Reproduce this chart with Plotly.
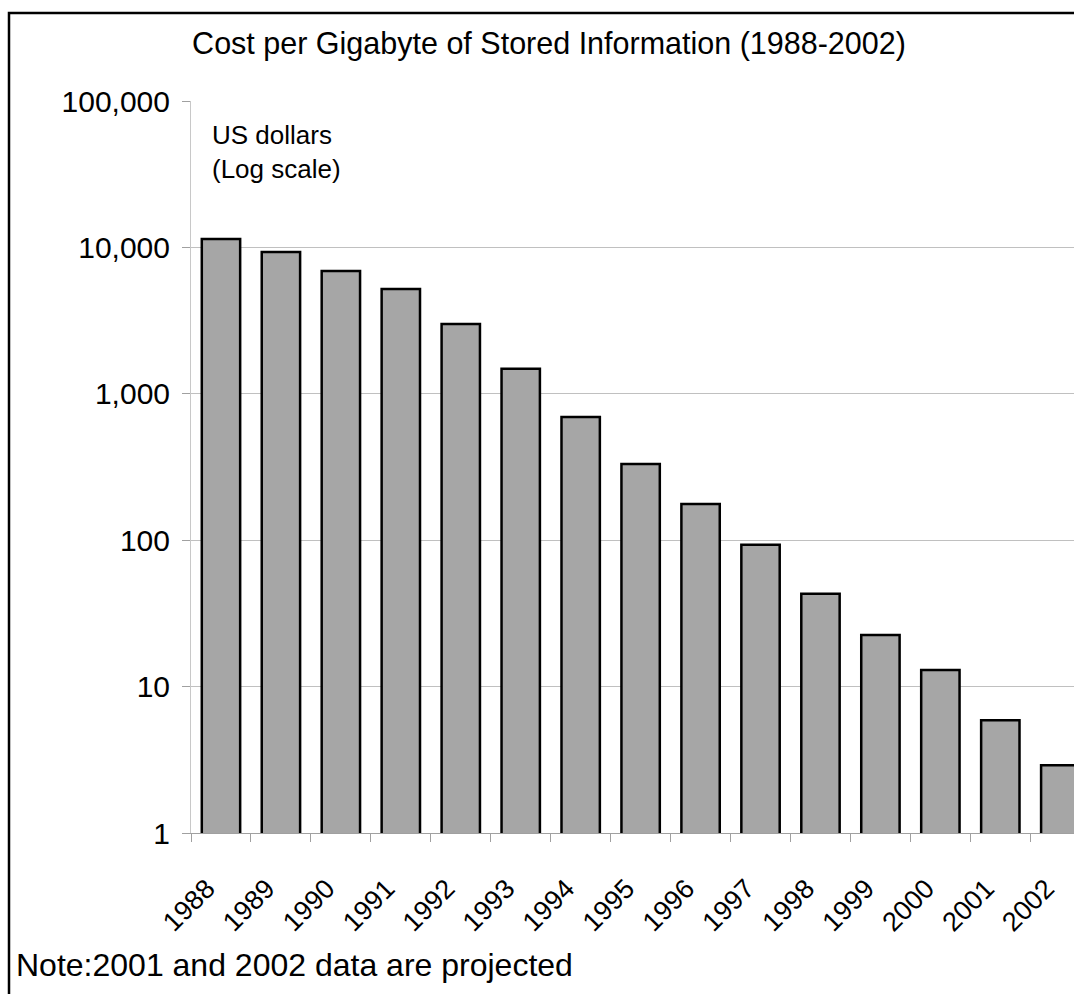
import plotly.graph_objects as go

years = ["1988", "1989", "1990", "1991", "1992", "1993", "1994", "1995",
         "1996", "1997", "1998", "1999", "2000", "2001", "2002"]
cost_per_gb = [11400, 9300, 6900, 5200, 3000, 1480, 695, 332, 177, 93, 43, 22.5, 13, 5.9, 2.9]
y_tickvals = [1, 10, 100, 1000, 10000, 100000]
y_ticktext = ["1", "10", "100", "1,000", "10,000", "100,000"]

W, H = 1074, 994
L, R, T, B = 191, 0, 101, 161
PW, PH = W - L - R, H - T - B
CAT_W = 59.95

def px_x(p):
    return (p - L) / PW

def px_y(p):
    return (H - B - p) / PH

FONT = "Liberation Sans, Arial, Helvetica, sans-serif"

fig = go.Figure(go.Bar(
    x=years, y=cost_per_gb,
    marker=dict(color="#a6a6a6", line=dict(color="#000000", width=2.5)),
))

fig.update_layout(
    width=W, height=H,
    margin=dict(l=L, r=R, t=T, b=B),
    paper_bgcolor="white", plot_bgcolor="white",
    font=dict(family=FONT, color="black"),
    bargap=0.36,
    showlegend=False,
    title=dict(text="Cost per Gigabyte of Stored Information (1988-2002)",
               x=549 / W, xanchor="center", xref="container",
               y=1 - 43 / H, yanchor="middle", yref="container",
               font=dict(size=30.5, family=FONT, color="black")),
)

fig.update_xaxes(
    type="category", range=[-0.5, -0.5 + PW / CAT_W],
    tickangle=-45, tickfont=dict(size=27, family=FONT, color="black"),
    ticks="outside", tickson="boundaries", ticklen=8, tickcolor="#a0a0a0",
    ticklabelshift=-14, ticklabelstandoff=28,
    showline=True, linecolor="#a0a0a0", linewidth=1,
    showgrid=False,
)

fig.update_yaxes(
    type="log", range=[0, 5],
    tickvals=y_tickvals, ticktext=y_ticktext,
    tickfont=dict(size=30, family=FONT, color="black"),
    ticks="outside", ticklen=8, tickcolor="#a0a0a0", ticklabelstandoff=6,
    showline=True, linecolor="#c8c8c8", linewidth=1,
    showgrid=True, gridcolor="#c0c0c0", gridwidth=1,
    zeroline=False,
)

fig.add_annotation(
    text="US dollars<br>(Log scale)", xref="paper", yref="paper",
    x=px_x(210), y=px_y(118), xanchor="left", yanchor="top", align="left",
    showarrow=False, font=dict(size=26, family=FONT, color="black"),
)

fig.add_annotation(
    text="Note:2001 and 2002 data are projected", xref="paper", yref="paper",
    x=px_x(14), y=px_y(965), xanchor="left", yanchor="middle", align="left",
    showarrow=False, font=dict(size=32, family=FONT, color="black"),
)

fig.add_shape(
    type="rect", xref="paper", yref="paper",
    x0=px_x(9), x1=px_x(1100), y0=px_y(1010), y1=px_y(13),
    line=dict(color="black", width=2.5), fillcolor="rgba(0,0,0,0)", layer="above",
)

fig.write_html("out.html",
               config={"displayModeBar": False},
               post_script="document.body.style.margin='0';document.body.style.overflow='hidden';")
